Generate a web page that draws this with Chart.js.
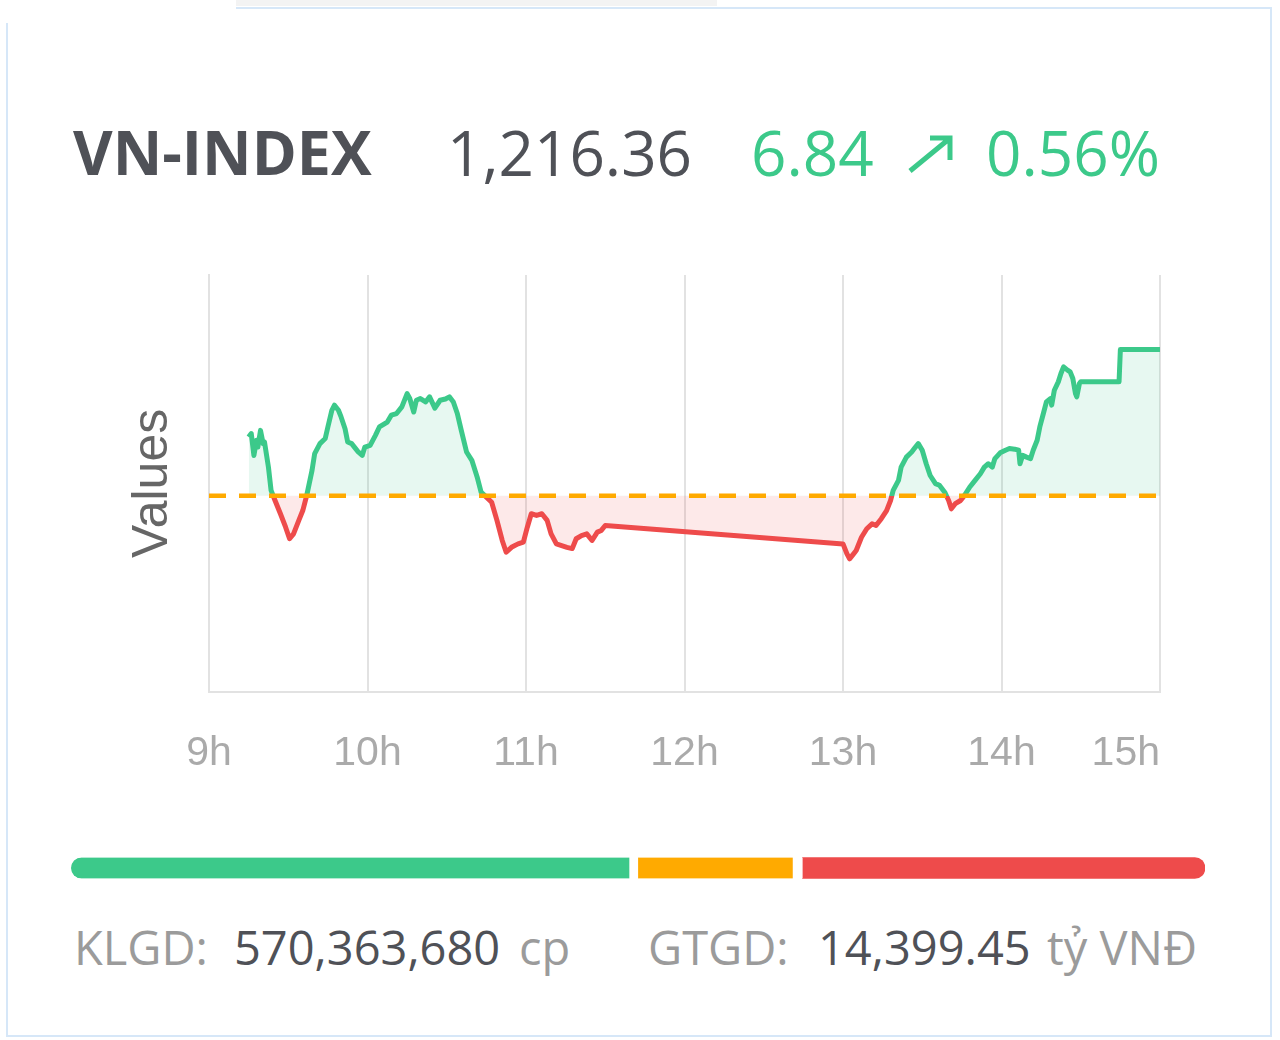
<!DOCTYPE html>
<html lang="vi">
<head>
<meta charset="utf-8">
<title>VN-INDEX</title>
<script src="https://cdn.jsdelivr.net/npm/chart.js@4.4.1/dist/chart.umd.min.js"></script>
<style>
  html, body { margin: 0; padding: 0; background: #fff; }
  body { width: 1280px; height: 1040px; position: relative; overflow: hidden; font-family: "Open Sans", sans-serif; }
  .card { position: absolute; left: 6px; top: 7px; width: 1266px; height: 1030px; border: 2px solid #d6e7f8; box-sizing: border-box; }
  .mask { position: absolute; left: 0; top: 0; width: 236px; height: 23px; background: #fff; }
  .strip { position: absolute; left: 236px; top: 0; width: 481px; height: 6px; background: #f3f3f3; }
  .t { position: absolute; white-space: nowrap; line-height: 1; }
  .dark { color: #4f5157; }
  .green { color: #3cc98a; }
  .grey { color: #9b9b9b; }
  .arrow { position: absolute; left: 905px; top: 133px; }
  #lineBox { position: absolute; left: 100px; top: 250px; width: 1180px; height: 569px; }
  #breadthBox { position: absolute; left: 71px; top: 850px; width: 1134px; height: 36px; }
</style>
</head>
<body>
<div class="card"></div>
<div class="mask"></div>
<div class="strip"></div>

<!-- header -->
<span class="t dark" style="left:73px; top:121px; font-size:61px; font-weight:700;">VN-INDEX</span>
<span class="t dark" style="left:447px; top:121px; font-size:62px;">1,216.36</span>
<span class="t green" style="left:751px; top:121px; font-size:62px;">6.84</span>
<svg class="arrow" width="50" height="42" viewBox="0 0 50 42">
  <path d="M5 38 L44 6 M25 5 L45 5 L45 27" fill="none" stroke="#3cc98a" stroke-width="5"/>
</svg>
<span class="t green" style="left:986px; top:121px; font-size:62px;">0.56%</span>

<div id="lineBox"><canvas id="indexChart"></canvas></div>
<div id="breadthBox"><canvas id="breadthChart"></canvas></div>

<!-- footer -->
<span class="t grey" style="left:74px; top:924px; font-size:47px;">KLGD:</span>
<span class="t dark" style="left:234px; top:924px; font-size:47px;">570,363,680</span>
<span class="t grey" style="left:519px; top:924px; font-size:47px;">cp</span>
<span class="t grey" style="left:648px; top:924px; font-size:47px;">GTGD:</span>
<span class="t dark" style="left:818px; top:924px; font-size:47px;">14,399.45</span>
<span class="t grey" style="left:1047px; top:924px; font-size:47px;">tỷ VNĐ</span>

<script>
// previous close (reference line)
const REF = 1209.52;

// x axis tick labels, 9h .. 15h
const hourLabels = ["9h", "10h", "11h", "12h", "13h", "14h", "15h"];

// intraday points: minutes after 9:00 and index value
const minutesFromOpen = [
  15, 16, 17, 18, 18.5, 19.5, 20.5, 21, 22.5, 23.5, 25, 27, 29, 30.5, 32, 34, 35.5, 37, 39, 40,
  42, 44, 45, 46.5, 47.5, 49, 50, 51.5, 52.5, 54, 55.5, 56.5, 58, 59, 61, 63, 64.5, 67.5, 69, 71,
  73, 75, 76, 77.5, 78.5, 80, 82, 83.5, 85.5, 87.5, 89.5, 91, 92.5, 94, 95.5, 97.5, 99.5, 101.5, 103, 105,
  107, 109, 111, 112.5, 114.5, 117, 119, 120.5, 122, 124, 126, 128, 129.5, 131.5, 133.5, 135.5, 137.5, 139, 141, 143,
  145, 147, 148.5, 150,
  240, 241.5, 242.5, 244, 245, 247, 249, 251, 252.5, 254.5, 256.5, 258, 259, 261, 262, 264, 266, 267, 268.5, 270,
  271.5, 273, 275, 276.5, 278.5, 280, 281, 282.5, 284.5, 286, 288, 290, 292, 293.5, 295, 296.5, 297.5, 299.5, 301.5, 303,
  305, 306.5, 307, 308, 309.5, 311, 312, 313.5, 314.5, 316, 317, 318.5, 319, 320, 321.5, 322.5, 323.5, 325, 326, 327,
  328, 328.5, 329.5, 330, 344.5, 345, 360
];
const indexValues = [
  1212.27, 1212.43, 1211.41, 1212.12, 1211.80, 1212.58, 1211.96, 1212.04, 1210.86, 1209.77, 1209.30, 1208.69, 1208.05, 1207.51, 1207.74, 1208.37, 1208.83, 1209.54, 1210.71, 1211.49,
  1211.96, 1212.20, 1212.74, 1213.52, 1213.76, 1213.52, 1213.21, 1212.66, 1212.04, 1211.96, 1211.73, 1211.57, 1211.41, 1211.80, 1211.88, 1212.35, 1212.74, 1212.97, 1213.29, 1213.37,
  1213.68, 1214.30, 1214.07, 1213.44, 1213.99, 1214.07, 1213.91, 1214.15, 1213.62, 1213.99, 1214.05, 1214.15, 1213.91, 1213.37, 1212.58, 1211.57, 1211.18, 1210.40, 1209.69, 1209.46,
  1209.22, 1208.37, 1207.43, 1206.88, 1207.11, 1207.27, 1207.35, 1208.05, 1208.68, 1208.60, 1208.68, 1208.37, 1207.74, 1207.27, 1207.19, 1207.11, 1207.05, 1207.51, 1207.66, 1207.74,
  1207.43, 1207.82, 1207.90, 1208.13,
  1207.27, 1206.80, 1206.57, 1206.80, 1206.96, 1207.58, 1207.98, 1208.21, 1208.13, 1208.45, 1208.83, 1209.30, 1209.77, 1210.24, 1210.86, 1211.33, 1211.57, 1211.73, 1211.96, 1211.65,
  1211.02, 1210.47, 1210.09, 1210.01, 1209.69, 1209.30, 1208.91, 1209.15, 1209.30, 1209.54, 1209.93, 1210.24, 1210.55, 1210.86, 1211.02, 1210.86, 1211.26, 1211.53, 1211.65, 1211.73,
  1211.70, 1211.65, 1211.02, 1211.41, 1211.33, 1211.26, 1211.65, 1212.12, 1212.74, 1213.44, 1213.91, 1214.07, 1213.76, 1214.46, 1214.85, 1215.24, 1215.55, 1215.40, 1215.32, 1215.01,
  1214.30, 1214.15, 1214.77, 1214.85, 1214.85, 1216.36, 1216.36
];

// market breadth: advancers / unchanged / decliners
const breadthLabels = ["Tăng", "Đứng giá", "Giảm"];
const breadthCounts = [200, 58, 142];

const GREEN = "#3cc98a";
const RED = "#ee4b4b";
const ORANGE = "#ffaa00";
const GRID = "#e2e2e2";

// line colour switches exactly at the reference level
function splitColor(context) {
  const chart = context.chart;
  const area = chart.chartArea;
  if (!area) return GREEN;
  const yRef = chart.scales.y.getPixelForValue(REF);
  const stop = Math.min(Math.max((yRef - area.top) / (area.bottom - area.top), 0), 1);
  const g = chart.ctx.createLinearGradient(0, area.top, 0, area.bottom);
  g.addColorStop(0, GREEN);
  g.addColorStop(stop, GREEN);
  g.addColorStop(stop, RED);
  g.addColorStop(1, RED);
  return g;
}

function createIndexChart() {
  const points = minutesFromOpen.map((m, i) => ({ x: 9 + m / 60, y: indexValues[i] }));
  new Chart(document.getElementById("indexChart"), {
    type: "line",
    data: {
      datasets: [
        {
          label: "Tham chiếu",
          data: [{ x: 9, y: REF }, { x: 15, y: REF }],
          borderColor: ORANGE,
          borderWidth: 4.5,
          borderDash: [17, 13],
          pointRadius: 0,
          fill: false,
          order: 0,
        },
        {
          label: "VN-INDEX",
          data: points,
          borderColor: splitColor,
          borderWidth: 5,
          borderJoinStyle: "round",
          pointRadius: 0,
          tension: 0,
          fill: {
            target: { value: REF },
            above: "rgba(60, 201, 138, 0.12)",
            below: "rgba(238, 75, 75, 0.12)",
          },
          order: 1,
        },
      ],
    },
    options: {
      responsive: true,
      maintainAspectRatio: false,
      animation: false,
      layout: { padding: { top: 25, right: 120, bottom: 4, left: 0 } },
      plugins: {
        legend: { display: false },
        tooltip: { enabled: false },
      },
      scales: {
        x: {
          type: "linear",
          min: 9,
          max: 15,
          grid: { color: GRID, lineWidth: 2, drawTicks: false },
          border: { color: GRID, width: 2 },
          ticks: {
            stepSize: 1,
            autoSkip: false,
            maxRotation: 0,
            padding: 37,
            color: "#aaa",
            font: { family: "'Liberation Sans', Arial, sans-serif", size: 41 },
            callback: function (value) {
              const label = hourLabels[value - 9];
              // keep last label inside the card
              return value === 15 ? label + "\u00a0".repeat(6) : label;
            },
          },
        },
        y: {
          min: 1200.35,
          max: 1219.85,
          grid: { display: false },
          border: { color: GRID, width: 2 },
          ticks: { display: false },
          title: {
            display: true,
            text: "Values",
            color: "#666",
            font: { family: "'Liberation Sans', Arial, sans-serif", size: 50 },
            padding: { top: 23, bottom: 18 },
          },
        },
      },
    },
  });
}

function createBreadthChart() {
  const total = breadthCounts.reduce((a, b) => a + b, 0);
  const colors = [GREEN, ORANGE, RED];
  const radius = [
    { topLeft: 11, bottomLeft: 11 },
    0,
    { topRight: 11, bottomRight: 11 },
  ];
  const gaps = [{ right: 9 }, { right: 10 }, 0];
  new Chart(document.getElementById("breadthChart"), {
    type: "bar",
    data: {
      labels: ["breadth"],
      datasets: breadthLabels.map((name, i) => ({
        label: name,
        data: [breadthCounts[i]],
        backgroundColor: colors[i],
        borderColor: "#fff",
        borderWidth: gaps[i],
        borderRadius: radius[i],
        borderSkipped: false,
        barThickness: 21,
      })),
    },
    options: {
      indexAxis: "y",
      responsive: true,
      maintainAspectRatio: false,
      animation: false,
      layout: { padding: 0 },
      plugins: { legend: { display: false }, tooltip: { enabled: false } },
      scales: {
        x: { stacked: true, display: false, min: 0, max: total },
        y: { stacked: true, display: false },
      },
    },
  });
}

createIndexChart();
createBreadthChart();
</script>
</body>
</html>
